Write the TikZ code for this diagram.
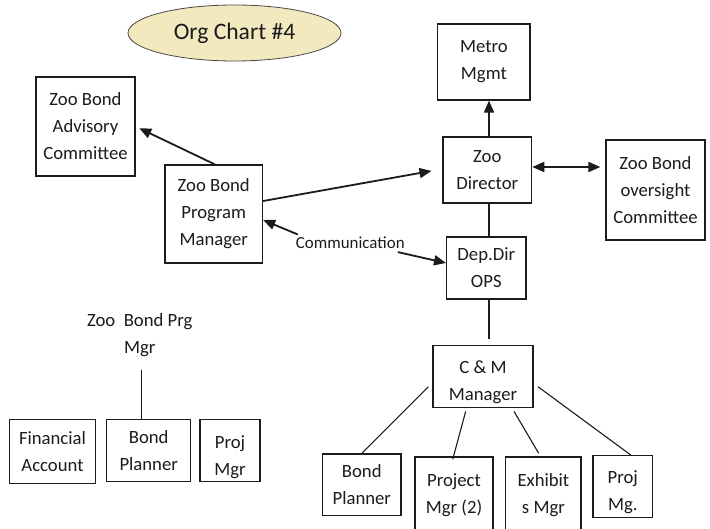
\documentclass[tikz,border=0pt]{standalone}
\usepackage{fontspec}
\setmainfont{Carlito}
\usetikzlibrary{arrows.meta,shapes.geometric}
\definecolor{titlefill}{HTML}{F2E9BE}
\definecolor{ink}{HTML}{1C1C1C}
\begin{document}
\begin{tikzpicture}[x=1pt,y=-1pt,
  box/.style={draw=ink,line width=1.3pt,text=ink,align=center,inner sep=0pt,
    font=\fontsize{18.7}{27}\selectfont},
  plain/.style={text=ink,align=center,inner sep=0pt,font=\fontsize{18.7}{26.6}\selectfont},
  arr/.style={draw=ink,line width=1.8pt,-{Triangle[length=12pt,width=10pt]}},
  darr/.style={draw=ink,line width=1.8pt,{Triangle[length=12pt,width=10pt]}-{Triangle[length=12pt,width=10pt]}},
  conn/.style={draw=ink,line width=1.3pt},
  thin/.style={draw=ink,line width=1.1pt}]
\useasboundingbox (0,0) rectangle (710,529);
\fill[white] (0,0) rectangle (710,529);

\node[ellipse,draw=ink!80,line width=0.8pt,fill=titlefill,minimum width=213pt,minimum height=56pt,
  inner sep=0pt,text=ink,font=\fontsize{23.6}{28}\selectfont] (title) at (234.5,33) {Org Chart \#4};

\node[box,minimum width=99pt,minimum height=99pt] (adv) at (85.5,126.5) {Zoo Bond\\Advisory\\Committee};
\node[box,minimum width=97.5pt,minimum height=98pt] (pm) at (213.75,214) {Zoo Bond\\Program\\Manager};
\node[box,minimum width=92.3pt,minimum height=76pt] (metro) at (483.9,62) {Metro\\Mgmt};
\node[box,minimum width=88.7pt,minimum height=66pt] (dir) at (487.3,170) {Zoo\\Director};
\node[box,minimum width=99pt,minimum height=100pt] (over) at (655.5,190) {Zoo Bond\\oversight\\Committee};
\node[box,minimum width=79.3pt,minimum height=62pt] (dep) at (486.3,268) {Dep.Dir\\OPS};

% C & M Manager (text overflows the box and is cut at its lower edge)
\begin{scope}
  \clip (433,345.7) rectangle (533,407.7);
  \node[plain,font=\fontsize{18.7}{27}\selectfont] (cmtext) at (483,382.7) {C \& M\\Manager};
\end{scope}
\node[box,minimum width=100pt,minimum height=62pt] (cm) at (483,376.7) {};

\node[box,minimum width=78.3pt,minimum height=61.3pt] (bp2) at (361.8,484.6) {Bond\\Planner};
\node[box,minimum width=78pt,minimum height=76pt] (pmg2) at (454,495) {Project\\Mgr (2)};
\node[box,minimum width=75.3pt,minimum height=76pt] (exh) at (543.4,495) {Exhibit\\s Mgr};

\begin{scope}
  \clip (593,455.7) rectangle (652.7,517.3);
  \node[plain,font=\fontsize{18.7}{27}\selectfont] (pjm2text) at (622.8,492) {Proj\\Mg.};
\end{scope}
\node[box,minimum width=59.7pt,minimum height=61.6pt] (pjm2) at (622.8,486.5) {};

\node[text=ink,inner sep=0pt,font=\fontsize{16.9}{20}\selectfont] (comm) at (350.3,243) {Communication};

\node[plain] (zbpm) at (139.8,335) {Zoo\ \ Bond Prg\\Mgr};
\node[box,minimum width=86.4pt,minimum height=64pt] (fin) at (52.5,451.3) {Financial\\Account};
\node[box,minimum width=84pt,minimum height=62.4pt] (bpl) at (148.7,450.5) {Bond\\Planner};

\begin{scope}
  \clip (200,419.3) rectangle (260,481.7);
  \node[plain,font=\fontsize{18.7}{27}\selectfont] (pjltext) at (230,457) {Proj\\Mgr};
\end{scope}
\node[box,minimum width=60pt,minimum height=62.4pt] (pjl) at (230,450.5) {};

% connectors
\draw[arr,shorten >=4pt] ([xshift=1pt]pm.north) -- (adv.east);
\draw[arr,shorten >=11pt] ([yshift=13pt]pm.east) -- ([yshift=1pt]dir.west);
\draw[arr] ([xshift=1.7pt]dir.north) -- ([xshift=1.7pt]dir.north |- metro.south);
\draw[darr,shorten >=5pt] ([yshift=3pt]dir.east) -- ([yshift=3pt]dir.east -| over.west);
\draw[conn] ([xshift=1.7pt]dir.south) -- ([xshift=1.7pt]dir.south |- dep.north);
\draw[arr,shorten <=1pt] ([xshift=3pt,yshift=2pt]comm.north west) -- ([yshift=-6pt]pm.east);
\draw[arr] ([xshift=-7pt,yshift=-3pt]comm.south east) -- ([yshift=5pt]dep.west);
\draw[conn,shorten >=6pt] ([xshift=2.7pt]dep.south) -- ([xshift=2.7pt]dep.south |- cm.north);
\draw[thin] ([xshift=-4pt,yshift=-10pt]cm.west) -- (bp2.north);
\draw[thin] ([xshift=-17.3pt,yshift=-3pt]cm.south) -- ([xshift=-1.3pt,yshift=-3pt]pmg2.north);
\draw[thin] ([xshift=31pt,yshift=-3pt]cm.south) -- ([xshift=-4.7pt,yshift=3pt]exh.north);
\draw[thin] ([xshift=4.3pt,yshift=-10pt]cm.east) -- ([xshift=8pt]pjm2.north);
\draw[conn,shorten <=13pt] ([xshift=2pt]zbpm.south) -- ([xshift=2pt]zbpm.south |- bpl.north);
\end{tikzpicture}
\end{document}
